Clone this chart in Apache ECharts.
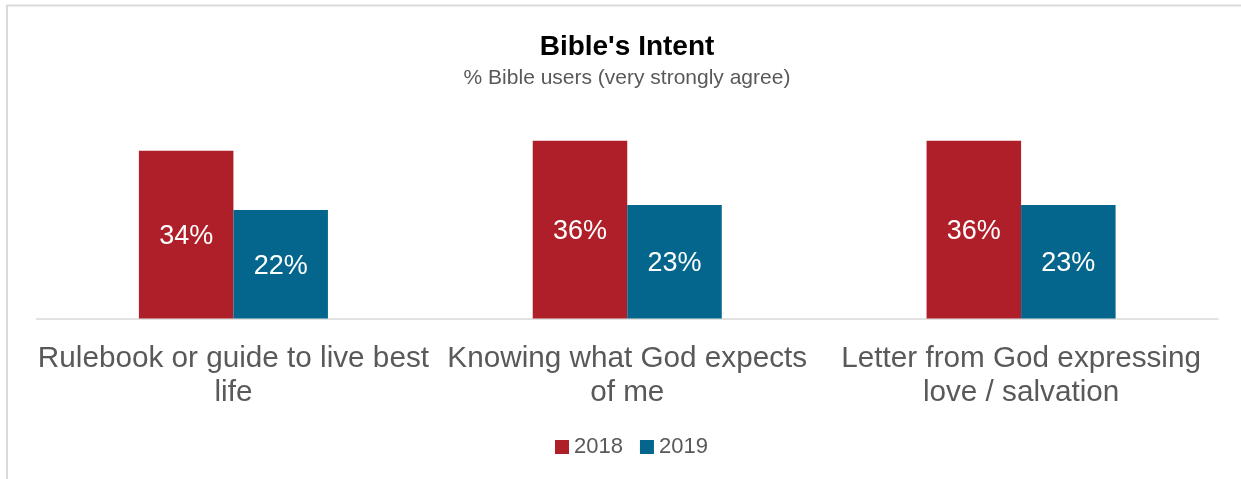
<!DOCTYPE html>
<html>
<head>
<meta charset="utf-8">
<script src="https://cdn.jsdelivr.net/npm/echarts@6/dist/echarts.min.js"></script>
<style>
  html, body { margin: 0; padding: 0; background: #ffffff; }
  #chart { width: 1241px; height: 479px; }
</style>
</head>
<body>
<div id="chart"></div>
<script>
// Category labels (line breaks as they wrap under each group)
const categories = [
  'Rulebook or guide to live best\nlife',
  'Knowing what God expects\nof me',
  'Letter from God expressing\nlove / salvation'
];
const seriesNames = ['2018', '2019'];
const values2018 = [34, 36, 36];
const values2019 = [22, 23, 23];
const seriesColors = ['#AF1F2A', '#05668D'];

const FONT = '"Liberation Sans", Arial, Helvetica, sans-serif';

const chart = echarts.init(document.getElementById('chart'), null, { renderer: 'canvas' });

const makeSeries = (name, data, color) => ({
  name: name,
  type: 'bar',
  data: data,
  barGap: '0%',
  barCategoryGap: '52%',
  itemStyle: { color: color },
  label: {
    show: true,
    position: 'inside',
    offset: [0, 2],
    color: '#ffffff',
    fontFamily: FONT,
    fontSize: 27,
    formatter: p => p.value + '%'
  },
  emphasis: { disabled: true }
});

chart.setOption({
  animation: false,
  backgroundColor: '#ffffff',
  textStyle: { fontFamily: FONT },
  title: {
    text: "Bible's Intent",
    subtext: '% Bible users (very strongly agree)',
    // centred over the plot area rather than the whole canvas
    left: 627,
    textAlign: 'center',
    top: 28,
    padding: [5, 0, 5, 0],
    itemGap: 7,
    textStyle: { fontFamily: FONT, fontSize: 28, fontWeight: 'bold', color: '#000000' },
    subtextStyle: { fontFamily: FONT, fontSize: 21, color: '#595959' }
  },
  legend: {
    data: seriesNames,
    left: 555,
    top: 436,
    padding: 0,
    itemWidth: 14,
    itemHeight: 14,
    itemGap: 17,
    icon: 'rect',
    textStyle: { fontFamily: FONT, fontSize: 22, color: '#595959' }
  },
  grid: {
    left: 36.5,
    right: 23,
    top: 121,
    bottom: 160.5,
    containLabel: false
  },
  xAxis: {
    type: 'category',
    data: categories,
    axisLine: { show: true, lineStyle: { color: '#d9d9d9', width: 1.5 } },
    axisTick: { show: false },
    axisLabel: {
      interval: 0,
      margin: 23,
      fontFamily: FONT,
      fontSize: 29.7,
      lineHeight: 34,
      color: '#595959',
      align: 'center'
    }
  },
  yAxis: {
    type: 'value',
    min: 0,
    max: 40,
    show: false,
    splitLine: { show: false }
  },
  graphic: [
    {
      type: 'line',
      shape: { x1: 6, y1: 5.5, x2: 1241, y2: 5.5 },
      style: { stroke: '#d9d9d9', lineWidth: 2 },
      silent: true
    },
    {
      type: 'line',
      shape: { x1: 7, y1: 5, x2: 7, y2: 479 },
      style: { stroke: '#d9d9d9', lineWidth: 2 },
      silent: true
    }
  ],
  series: [
    makeSeries(seriesNames[0], values2018, seriesColors[0]),
    makeSeries(seriesNames[1], values2019, seriesColors[1])
  ]
});
</script>
</body>
</html>
